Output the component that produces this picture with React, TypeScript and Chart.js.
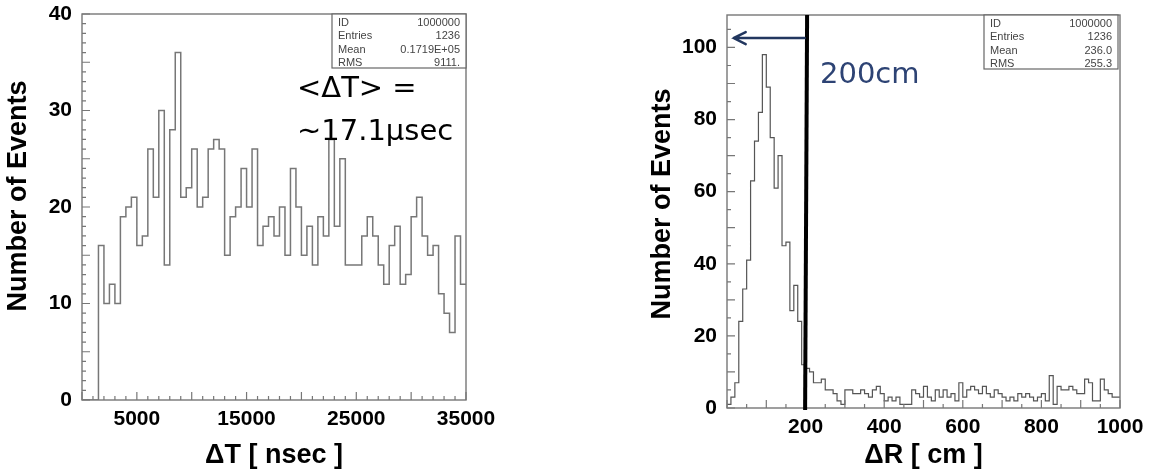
import React, { useEffect, useRef } from "react";
import { Chart, registerables } from "chart.js";
Chart.register(...registerables);

// ---------------- data: left histogram (ΔT) ----------------
const dtBinWidth = 500; // nsec per bin
const dtCounts = [
  0, 0, 0, 16, 10, 12, 10, 19, 20, 21, 16, 17, 26, 21, 30, 14, 28, 36, 21, 22,
  26, 20, 21, 26, 27, 26, 15, 19, 20, 24, 20, 26, 16, 18, 19, 17, 20, 15, 24, 20,
  15, 18, 14, 19, 17, 27, 18, 25, 14, 14, 14, 17, 19, 17, 14, 12, 16, 18, 12, 13,
  19, 21, 17, 15, 16, 11, 9, 7, 17, 12,
];
const dtXTicks = [5000, 15000, 25000, 35000];
const dtYTicks = [0, 10, 20, 30, 40];
const dtStats = [
  ["ID", "1000000"],
  ["Entries", "1236"],
  ["Mean", "0.1719E+05"],
  ["RMS", "9111."],
];
const dtNotes = ["<ΔT> =", "~17.1µsec"];

// ---------------- data: right histogram (ΔR) ----------------
const drBinWidth = 10; // cm per bin
const drCounts = [
  1, 3, 7, 24, 33, 41, 63, 74, 82, 98, 89, 75, 61, 70, 45, 46, 27, 34, 24, 12,
  11, 10, 7, 7, 8, 5, 5, 4, 2, 1, 5, 5, 4, 4, 5, 4, 3, 5, 6, 4,
  2, 3, 2, 3, 1, 1, 1, 5, 4, 3, 6, 3, 2, 5, 3, 5, 3, 4, 2, 7,
  3, 5, 6, 5, 4, 6, 4, 3, 5, 4, 3, 2, 3, 2, 4, 3, 4, 3, 2, 3,
  4, 2, 9, 1, 6, 5, 5, 6, 5, 4, 4, 8, 7, 2, 2, 8, 5, 4, 3, 3,
];
const drXTicks = [200, 400, 600, 800, 1000];
const drYTicks = [0, 20, 40, 60, 80, 100];
const drStats = [
  ["ID", "1000000"],
  ["Entries", "1236"],
  ["Mean", "236.0"],
  ["RMS", "255.3"],
];
const drCut = 200;
const drArrowY = 102.6;
const drArrowTip = 17;
const drNote = "200cm";

const yTitle = "Number of Events";

// ---------------- helpers ----------------
function histPoints(counts: number[], width: number) {
  const pts = counts.map((c, i) => ({ x: i * width, y: c }));
  pts.push({ x: counts.length * width, y: counts[counts.length - 1] });
  return pts;
}

const tickFont = { family: "'Liberation Sans', Arial, sans-serif", size: 21, weight: "bold" as const };
const titleFont = { family: "'Liberation Sans', Arial, sans-serif", size: 27, weight: "bold" as const, lineHeight: 1 };
const yTitleFontCss = "bold 27px 'Liberation Sans', Arial, sans-serif";
const statFont = "11px 'Liberation Sans', Arial, sans-serif";
const noteFont = "29px 'DejaVu Sans', sans-serif";

type Opts = {
  counts: number[];
  binWidth: number;
  xMax: number;
  yMax: number;
  xTicks: number[];
  yTicks: number[];
  xMinorStep: number;
  xMajorStep: number;
  yMinorStep: number;
  yMajorStep: number;
  xTitle: string;
  padding: { left: number; right: number; top: number; bottom: number };
  yAxisWidth: number;
  xAxisHeight: number;
  yTitleX: number;
  yTitleY: number;
  lineColor: string;
  lineWidth: number;
  stats: string[][];
  statsInset: number;
  extra: (chart: any) => void;
};

function drawTicks(ctx: CanvasRenderingContext2D, chart: any, o: Opts) {
  const { left, right, top, bottom } = chart.chartArea;
  const xs = chart.scales.x;
  const ys = chart.scales.y;
  ctx.save();
  ctx.strokeStyle = "#777";
  ctx.lineWidth = 1.2;
  ctx.beginPath();
  const nx = Math.round(o.xMax / o.xMinorStep);
  for (let i = 0; i <= nx; i++) {
    const v = i * o.xMinorStep;
    const px = xs.getPixelForValue(v);
    const major = v % o.xMajorStep === 0;
    const len = major ? 8 : 4;
    ctx.moveTo(px, bottom);
    ctx.lineTo(px, bottom - len);
  }
  const ny = Math.floor(o.yMax / o.yMinorStep);
  for (let i = 0; i <= ny; i++) {
    const v = i * o.yMinorStep;
    const py = ys.getPixelForValue(v);
    const major = v % o.yMajorStep === 0;
    const len = major ? 8 : 4;
    ctx.moveTo(left, py);
    ctx.lineTo(left + len, py);
  }
  ctx.stroke();
  // frame
  ctx.lineWidth = 1.4;
  ctx.strokeRect(left, top, right - left, bottom - top);
  ctx.restore();
}

function drawYTitle(ctx: CanvasRenderingContext2D, o: Opts) {
  ctx.save();
  ctx.translate(o.yTitleX, o.yTitleY);
  ctx.rotate(-Math.PI / 2);
  ctx.font = yTitleFontCss;
  ctx.fillStyle = "#000";
  ctx.textAlign = "center";
  ctx.textBaseline = "middle";
  ctx.fillText(yTitle, 0, 0);
  ctx.restore();
}

function drawStats(ctx: CanvasRenderingContext2D, chart: any, o: Opts) {
  const { right, top } = chart.chartArea;
  const w = 134;
  const h = 54;
  const bx = right - o.statsInset - w;
  const by = top;
  ctx.save();
  ctx.fillStyle = "#fff";
  ctx.fillRect(bx, by, w, h);
  ctx.strokeStyle = "#666";
  ctx.lineWidth = 1.2;
  ctx.strokeRect(bx, by, w, h);
  ctx.font = statFont;
  ctx.fillStyle = "#444";
  ctx.textBaseline = "middle";
  o.stats.forEach((row, i) => {
    const y = by + 8.5 + i * 13.5;
    ctx.textAlign = "left";
    ctx.fillText(row[0], bx + 6, y);
    ctx.textAlign = "right";
    ctx.fillText(row[1], bx + w - 6, y);
  });
  ctx.restore();
}

function makeConfig(o: Opts): any {
  return {
    type: "line",
    data: {
      datasets: [
        {
          data: histPoints(o.counts, o.binWidth),
          stepped: true,
          borderColor: o.lineColor,
          borderWidth: o.lineWidth,
          pointRadius: 0,
          fill: false,
          tension: 0,
        },
      ],
    },
    options: {
      animation: false,
      responsive: false,
      maintainAspectRatio: false,
      layout: { padding: o.padding },
      plugins: { legend: { display: false }, tooltip: { enabled: false }, title: { display: false } },
      scales: {
        x: {
          type: "linear",
          min: 0,
          max: o.xMax,
          grid: { display: false, drawTicks: false },
          border: { display: false },
          ticks: {
            padding: 7,
            font: tickFont,
            color: "#000",
            maxRotation: 0,
            autoSkip: false,
            callback: (v: any) => String(v),
          },
          afterBuildTicks: (s: any) => {
            s.ticks = o.xTicks.map((v) => ({ value: v }));
          },
          afterFit: (s: any) => {
            s.height = o.xAxisHeight;
            s.paddingLeft = 0;
            s.paddingRight = 0;
          },
          title: { display: true, text: o.xTitle, font: titleFont, color: "#000", padding: { top: 0, bottom: 1 } },
        },
        y: {
          type: "linear",
          min: 0,
          max: o.yMax,
          grid: { display: false, drawTicks: false },
          border: { display: false },
          ticks: {
            padding: 10,
            font: tickFont,
            color: "#000",
            autoSkip: false,
            callback: (v: any) => String(v),
          },
          afterBuildTicks: (s: any) => {
            s.ticks = o.yTicks.map((v) => ({ value: v }));
          },
          afterFit: (s: any) => {
            s.width = o.yAxisWidth;
            s.paddingTop = 0;
            s.paddingBottom = 0;
          },
          title: { display: false },
        },
      },
    },
    plugins: [
      {
        id: "rootDecor",
        afterDraw(chart: any) {
          const ctx = chart.ctx as CanvasRenderingContext2D;
          drawTicks(ctx, chart, o);
          drawYTitle(ctx, o);
          o.extra(chart);
          drawStats(ctx, chart, o);
        },
      },
    ],
  };
}

const leftOpts: Opts = {
  counts: dtCounts,
  binWidth: dtBinWidth,
  xMax: dtCounts.length * dtBinWidth,
  yMax: 40,
  xTicks: dtXTicks,
  yTicks: dtYTicks,
  xMinorStep: 1000,
  xMajorStep: 5000,
  yMinorStep: 1,
  yMajorStep: 5,
  xTitle: "ΔT [ nsec ]",
  padding: { left: 0, right: 94, top: 14, bottom: 0 },
  yAxisWidth: 82,
  xAxisHeight: 70,
  yTitleX: 19,
  yTitleY: 196,
  lineColor: "#777",
  lineWidth: 1.5,
  stats: dtStats,
  statsInset: 0,
  extra: (chart: any) => {
    const ctx = chart.ctx as CanvasRenderingContext2D;
    const { left, top } = chart.chartArea;
    ctx.save();
    ctx.font = noteFont;
    ctx.fillStyle = "#000";
    ctx.textAlign = "left";
    ctx.textBaseline = "alphabetic";
    ctx.fillText(dtNotes[0], left + 215, top + 83);
    ctx.fillText(dtNotes[1], left + 215, top + 126);
    ctx.restore();
  },
};

const rightOpts: Opts = {
  counts: drCounts,
  binWidth: drBinWidth,
  xMax: drCounts.length * drBinWidth,
  yMax: 109,
  xTicks: drXTicks,
  yTicks: drYTicks,
  xMinorStep: 50,
  xMajorStep: 100,
  yMinorStep: 5,
  yMajorStep: 10,
  xTitle: "ΔR [ cm ]",
  padding: { left: 0, right: 29, top: 15, bottom: 0 },
  yAxisWidth: 127,
  xAxisHeight: 62,
  yTitleX: 63,
  yTitleY: 204,
  lineColor: "#555",
  lineWidth: 1.2,
  stats: drStats,
  statsInset: 2,
  extra: (chart: any) => {
    const ctx = chart.ctx as CanvasRenderingContext2D;
    const xs = chart.scales.x;
    const ys = chart.scales.y;
    const { top, bottom, left } = chart.chartArea;
    ctx.save();
    // cut line
    const cx = xs.getPixelForValue(drCut);
    ctx.strokeStyle = "#000";
    ctx.lineWidth = 4;
    ctx.beginPath();
    ctx.moveTo(cx + 1.5, top);
    ctx.lineTo(cx - 0.5, bottom + 2);
    ctx.stroke();
    // arrow
    const ay = ys.getPixelForValue(drArrowY);
    const tip = xs.getPixelForValue(drArrowTip);
    ctx.strokeStyle = "#22375f";
    ctx.lineWidth = 2.5;
    ctx.lineCap = "round";
    ctx.beginPath();
    ctx.moveTo(cx - 1, ay);
    ctx.lineTo(tip, ay);
    ctx.moveTo(tip + 12, ay - 6);
    ctx.lineTo(tip, ay);
    ctx.lineTo(tip + 12, ay + 6);
    ctx.stroke();
    // label
    ctx.font = noteFont;
    ctx.fillStyle = "#2d4374";
    ctx.textAlign = "left";
    ctx.textBaseline = "alphabetic";
    ctx.fillText(drNote, left + 93, top + 68);
    ctx.restore();
  },
};

function Hist({ opts, width, height, x }: { opts: Opts; width: number; height: number; x: number }) {
  const ref = useRef<HTMLCanvasElement | null>(null);
  useEffect(() => {
    if (!ref.current) return;
    const chart = new Chart(ref.current, makeConfig(opts));
    return () => chart.destroy();
  }, [opts]);
  return (
    <canvas
      ref={ref}
      width={width}
      height={height}
      style={{ position: "absolute", left: x, top: 0, width, height }}
    />
  );
}

export default function App() {
  return (
    <div
      style={{
        position: "absolute",
        left: 0,
        top: 0,
        width: 1149,
        height: 470,
        background: "#fff",
        overflow: "hidden",
      }}
    >
      <Hist opts={leftOpts} width={560} height={470} x={0} />
      <Hist opts={rightOpts} width={549} height={470} x={600} />
    </div>
  );
}
